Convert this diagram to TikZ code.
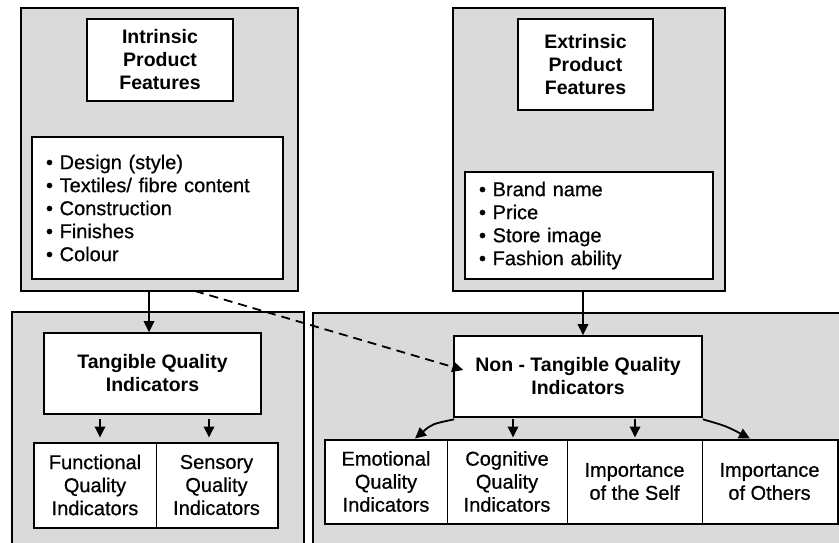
\documentclass[tikz,border=0pt]{standalone}
\usepackage{fontspec}
\setmainfont{Liberation Sans}
\newfontfamily\bodyfont{Liberation Sans}[FakeBold=0.6]
\usetikzlibrary{arrows.meta,calc}
\definecolor{panelgray}{RGB}{218,218,218}
\begin{document}
\begin{tikzpicture}[x=1pt,y=-1pt,
  panel/.style={draw, line width=2.6pt, fill=panelgray, inner sep=0pt},
  box/.style={draw, line width=1.6pt, fill=white, inner sep=0pt, align=center},
  cell/.style={draw, line width=1pt, fill=white, inner sep=0pt, align=center, minimum height=83pt},
  head/.style={font=\fontsize{19.5}{23}\selectfont\bfseries},
  body/.style={font=\bodyfont\fontsize{20}{23}\selectfont},
  arr/.style={line width=1.8pt, -{Triangle[length=11pt,width=10.5pt]}},
  dasharr/.style={arr, dash pattern=on 9pt off 6pt}]
\useasboundingbox (0,0) rectangle (839,542);
\clip (0,0) rectangle (839,542);
\fill[white] (0,0) rectangle (839,542);
% panels
\node[panel, minimum width=277pt, minimum height=283pt] (pTL) at (159.5,149.5) {};
\node[panel, minimum width=272pt, minimum height=283pt] (pTR) at (589,149.5) {};
\node[panel, minimum width=292pt, minimum height=236pt] (pBL) at (158,430) {};
\node[panel, minimum width=532pt, minimum height=235pt] (pBR) at (579,430.5) {};
% top left
\node[box, head, minimum width=146pt, minimum height=82pt] (intr) at (160,60) {Intrinsic\\Product\\Features};
\node[box, body, align=left, text width=223pt, minimum width=251pt, minimum height=142pt] (listL) at (157.5,208)
  {\textbullet\ Design (style)\\\textbullet\ Textiles/ fibre content\\\textbullet\ Construction\\\textbullet\ Finishes\\\textbullet\ Colour};
% top right
\node[box, head, minimum width=135pt, minimum height=91pt] (extr) at (585.5,64.5) {Extrinsic\\Product\\Features};
\node[box, body, align=left, text width=220pt, minimum width=248pt, minimum height=107pt] (listR) at (589,225.5)
  {\textbullet\ Brand name\\\textbullet\ Price\\\textbullet\ Store image\\\textbullet\ Fashion ability};
% bottom left
\node[box, head, minimum width=217pt, minimum height=81pt] (tang) at (152.5,373.5) {Tangible Quality\\Indicators};
\node[cell, body, minimum width=122pt, minimum height=84pt] (func) at (95,485) {Functional\\Quality\\Indicators};
\node[cell, body, minimum width=121pt, minimum height=84pt] (sens) at (216.5,485) {Sensory\\Quality\\Indicators};
\draw[line width=2pt] (func.north west) rectangle (sens.south east);
% bottom right
\node[box, head, minimum width=248pt, minimum height=81pt] (ntqi) at (578,376.5) {Non - Tangible Quality\\Indicators};
\node[cell, body, minimum width=122pt] (emo) at (386,481.5) {Emotional\\Quality\\Indicators};
\node[cell, body, minimum width=120pt] (cog) at (507,481.5) {Cognitive\\Quality\\Indicators};
\node[cell, body, minimum width=135pt] (self) at (634.5,481.5) {Importance\\of the Self};
\node[cell, body, minimum width=135pt] (oth) at (769.5,481.5) {Importance\\of Others};
\draw[line width=2pt] (emo.north west) rectangle (oth.south east);
% connectors
\coordinate (s1) at (149,291);
\draw[arr] (s1) -- (s1 |- tang.north);
\coordinate (s2) at (583,291);
\draw[arr] (s2) -- (s2 |- ntqi.north);
\coordinate (s3) at (100,414);
\draw[arr, shorten <=5pt, shorten >=5pt] (s3) -- (s3 |- func.north);
\coordinate (s4) at (209,414);
\draw[arr, shorten <=5pt, shorten >=5pt] (s4) -- (s4 |- sens.north);
\coordinate (s5) at (513,417);
\draw[arr, shorten <=2pt, shorten >=2pt] (s5) -- (s5 |- cog.north);
\coordinate (s6) at (635,417);
\draw[arr, shorten <=2pt, shorten >=2pt] (s6) -- (s6 |- self.north);
\draw[arr] ($(ntqi.south west)+(1,1.5)$) .. controls (432,424) .. ($(emo.north)+(29,-1)$);
\draw[arr] ($(ntqi.south east)+(0,1.5)$) .. controls (726,426) .. ($(oth.north)+(-19.5,-1)$);
\coordinate (d1) at (195,291);
\draw[dasharr] (d1) -- ($(ntqi.west)+(10,-6.5)$);
\end{tikzpicture}
\end{document}
